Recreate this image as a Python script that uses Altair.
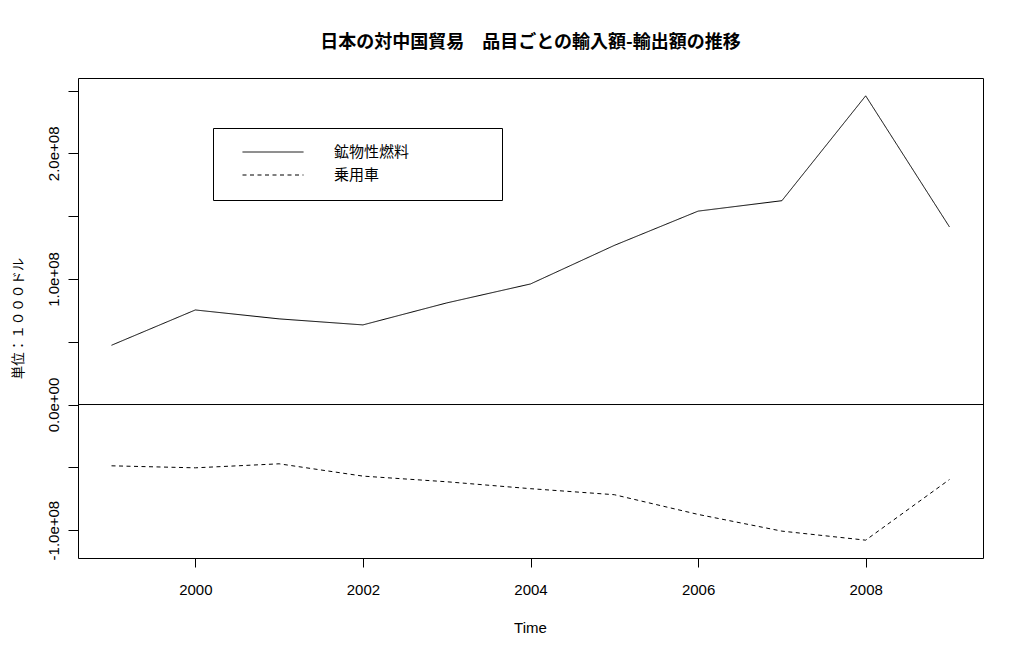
import altair as alt
import pandas as pd

years = [1999, 2000, 2001, 2002, 2003, 2004, 2005, 2006, 2007, 2008, 2009]
fuel = [0.472e8, 0.753e8, 0.682e8, 0.634e8, 0.809e8, 0.960e8, 1.267e8, 1.540e8, 1.623e8, 2.458e8, 1.414e8]
car = [-0.488e8, -0.504e8, -0.472e8, -0.570e8, -0.615e8, -0.670e8, -0.718e8, -0.875e8, -1.008e8, -1.080e8, -0.597e8]
series_names = ["鉱物性燃料", "乗用車"]
x_ticks = [2000, 2002, 2004, 2006, 2008]
y_ticks = [-100000000, -50000000, 0, 50000000, 100000000, 150000000, 200000000, 250000000]
y_labels = {-100000000: "-1.0e+08", 0: "0.0e+00", 100000000: "1.0e+08", 200000000: "2.0e+08"}

rows = []
for y, v in zip(years, fuel):
    rows.append({"year": y, "value": v, "series": series_names[0]})
for y, v in zip(years, car):
    rows.append({"year": y, "value": v, "series": series_names[1]})
df = pd.DataFrame(rows)

label_expr = " : ".join(f"datum.value == {k} ? '{v}'" for k, v in y_labels.items()) + " : ''"

LAT = "Liberation Sans"
JP = "Noto Sans CJK JP"

xscale = alt.Scale(domain=[1998.6, 2009.4], nice=False, zero=False)
yscale = alt.Scale(domain=[-1.222e8, 2.6e8], nice=False, zero=False)

lines = alt.Chart(df).mark_line(color="black", strokeWidth=1).encode(
    x=alt.X("year:Q", scale=xscale,
            axis=alt.Axis(values=x_ticks, format="d", title="Time", grid=False, domain=False,
                          tickColor="black", tickSize=9, labelFont=LAT, labelFontSize=15,
                          labelColor="black", labelPadding=15, titleFont=LAT, titleFontSize=15,
                          titleFontWeight="normal", titleColor="black", titleX=452, titleY=69,
                          titleBaseline="middle", titleAlign="center")),
    y=alt.Y("value:Q", scale=yscale,
            axis=alt.Axis(values=y_ticks, labelExpr=label_expr, title="単位：１０００ドル", grid=False,
                          domain=False, tickColor="black", tickSize=10, labelFont=LAT,
                          labelFontSize=15, labelColor="black", labelAngle=-90, labelAlign="center",
                          labelBaseline="alphabetic", labelPadding=10, labelOverlap=False,
                          titleFont=JP, titleFontSize=13.5, titleFontWeight="normal",
                          titleColor="black", titleAngle=-90, titleX=-60, titleY=240,
                          titleBaseline="middle", titleAlign="center")),
    strokeDash=alt.StrokeDash("series:N",
                              scale=alt.Scale(domain=series_names, range=[[1, 0], [4, 3.5]]),
                              legend=alt.Legend(orient="none", legendX=135, legendY=50, title=None,
                                                strokeColor="black", fillColor="white", padding=17,
                                                symbolType="stroke", symbolSize=3721,
                                                symbolStrokeColor="black", symbolStrokeWidth=1,
                                                symbolOffset=12, clipHeight=14, rowPadding=8,
                                                labelOffset=30, labelFont=JP, labelFontSize=15,
                                                labelColor="black",
                                                labelExpr="datum.label + '\u3000\u3000\u3000\u3000\u3000\u200b'")),
)

zero = alt.Chart(pd.DataFrame({"z": [0]})).mark_rule(color="black", strokeWidth=1).encode(
    y=alt.Y("z:Q", scale=yscale)
)

chart = alt.layer(lines, zero).properties(
    width=905, height=480,
    title=alt.TitleParams("日本の対中国貿易　品目ごとの輸入額-輸出額の推移", font=JP, fontSize=18,
                          fontWeight="bold", color="black", anchor="middle", offset=26),
    padding={"left": 70, "top": 70, "right": 30, "bottom": 85},
    autosize="none",
    background="white",
).configure_view(stroke="black", strokeWidth=1)

chart.save("out.html", embed_options={"renderer": "svg", "actions": False})
